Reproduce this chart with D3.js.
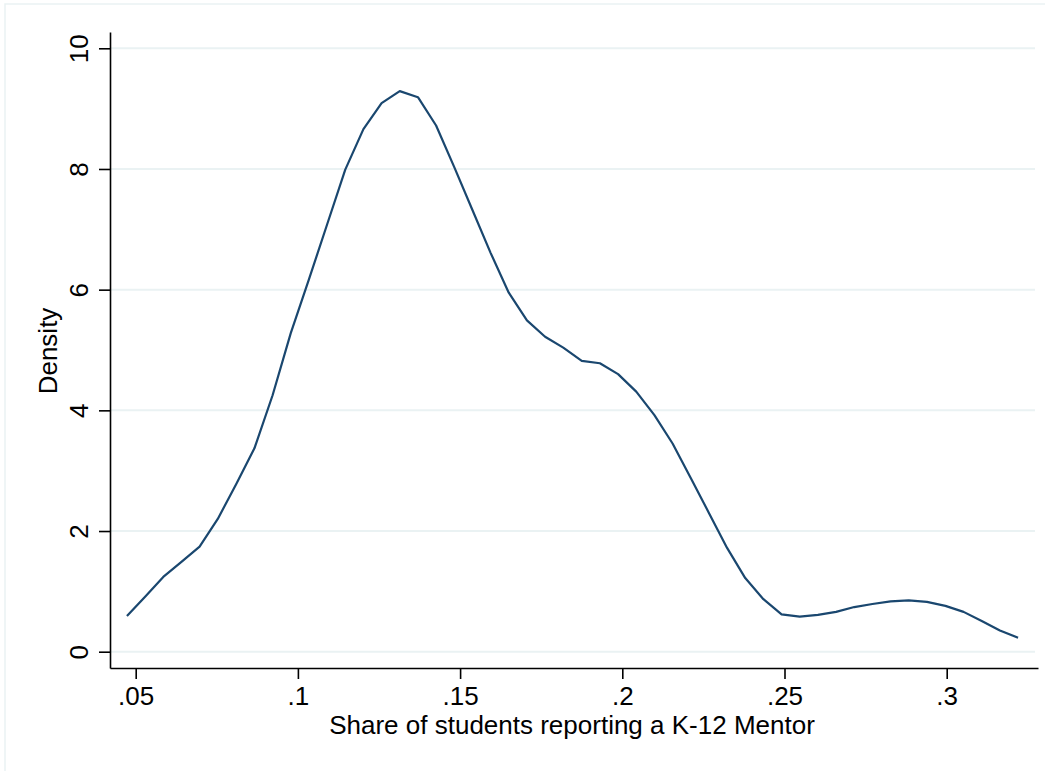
<!DOCTYPE html>
<html>
<head>
<meta charset="utf-8">
<style>
  body { margin: 0; background: #fff; }
  svg { display: block; }
  .tick text, .lbl { font-family: "Liberation Sans", Arial, Helvetica, sans-serif; fill: #000; }
</style>
</head>
<body>
<svg width="1045" height="771"></svg>
<script src="https://cdn.jsdelivr.net/npm/d3@7"></script>
<script>
// kernel density estimate, 50 evaluation points
var share = [0.0473, 0.0529, 0.0585, 0.0641, 0.0697, 0.0753, 0.0810, 0.0866, 0.0922, 0.0978,
             0.1034, 0.1090, 0.1146, 0.1202, 0.1258, 0.1314, 0.1370, 0.1426, 0.1482, 0.1538,
             0.1594, 0.1650, 0.1706, 0.1762, 0.1818, 0.1875, 0.1931, 0.1987, 0.2043, 0.2099,
             0.2155, 0.2211, 0.2267, 0.2323, 0.2379, 0.2435, 0.2491, 0.2547, 0.2603, 0.2659,
             0.2715, 0.2771, 0.2827, 0.2883, 0.2939, 0.2996, 0.3052, 0.3108, 0.3164, 0.3220];
var density = [0.59, 0.91, 1.24, 1.49, 1.74, 2.20, 2.78, 3.37, 4.25, 5.28,
               6.17, 7.08, 7.99, 8.66, 9.09, 9.29, 9.19, 8.72, 8.03, 7.32,
               6.61, 5.95, 5.49, 5.22, 5.04, 4.82, 4.78, 4.60, 4.31, 3.92,
               3.45, 2.88, 2.30, 1.72, 1.22, 0.87, 0.62, 0.58, 0.61, 0.66,
               0.74, 0.79, 0.835, 0.85, 0.825, 0.76, 0.66, 0.51, 0.35, 0.23];
var xTicks = [0.05, 0.1, 0.15, 0.2, 0.25, 0.3];
var xTickLabels = [".05", ".1", ".15", ".2", ".25", ".3"];
var yTicks = [0, 2, 4, 6, 8, 10];

var svg = d3.select("svg");
var fontSize = 26;

// faint outer frame
svg.append("rect")
  .attr("x", 5).attr("y", 4)
  .attr("width", 1060).attr("height", 800)
  .attr("fill", "none")
  .attr("stroke", "#eaf2f3")
  .attr("stroke-width", 1.5);

var x = d3.scaleLinear().domain([0.042078, 0.328144]).range([110, 1038]);
var y = d3.scaleLinear().domain([-0.27, 10.27]).range([668, 32]);

// grid lines
svg.append("g")
  .selectAll("line")
  .data(yTicks)
  .enter().append("line")
  .attr("x1", 110).attr("x2", 1035)
  .attr("y1", function(d) { return y(d); })
  .attr("y2", function(d) { return y(d); })
  .attr("stroke", "#eaf2f3")
  .attr("stroke-width", 2);

// density line
var line = d3.line()
  .x(function(d, i) { return x(share[i]); })
  .y(function(d) { return y(d); });

svg.append("path")
  .datum(density)
  .attr("d", line)
  .attr("fill", "none")
  .attr("stroke", "#1a476f")
  .attr("stroke-width", 2.2)
  .attr("stroke-linejoin", "round");

// x axis
var xAxis = svg.append("g")
  .attr("transform", "translate(0,668)")
  .call(d3.axisBottom(x)
    .tickValues(xTicks)
    .tickFormat(function(d, i) { return xTickLabels[i]; })
    .tickSize(11)
    .tickSizeOuter(0));
xAxis.select(".domain").attr("stroke", "#000").attr("stroke-width", 1.6);
xAxis.selectAll(".tick line").attr("stroke", "#000").attr("stroke-width", 1.6);
xAxis.selectAll(".tick text")
  .style("font-size", fontSize + "px")
  .attr("y", 37).attr("dy", null);

// y axis
var yAxis = svg.append("g")
  .attr("transform", "translate(110,0)")
  .call(d3.axisLeft(y)
    .tickValues(yTicks)
    .tickSize(11)
    .tickPadding(0)
    .tickSizeOuter(0));
yAxis.select(".domain").attr("stroke", "#000").attr("stroke-width", 1.6);
yAxis.selectAll(".tick line").attr("stroke", "#000").attr("stroke-width", 1.6);
yAxis.selectAll(".tick text")
  .style("font-size", fontSize + "px")
  .attr("x", null).attr("dy", null)
  .attr("text-anchor", "middle")
  .attr("transform", "translate(-22,0) rotate(-90)");

// axis titles
svg.append("text")
  .attr("class", "lbl")
  .attr("x", 572).attr("y", 734)
  .attr("text-anchor", "middle")
  .style("font-size", fontSize + "px")
  .text("Share of students reporting a K-12 Mentor");

svg.append("text")
  .attr("class", "lbl")
  .attr("transform", "translate(57,351) rotate(-90)")
  .attr("text-anchor", "middle")
  .style("font-size", fontSize + "px")
  .text("Density");
</script>
</body>
</html>
